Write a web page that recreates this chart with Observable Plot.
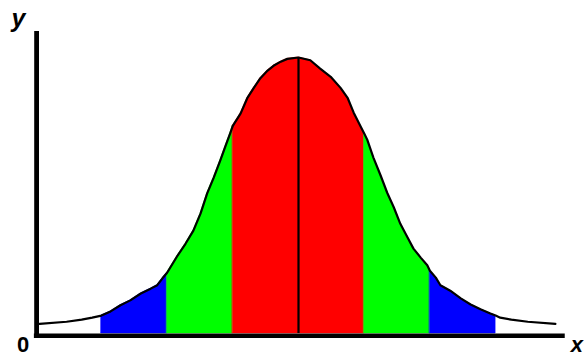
<!DOCTYPE html>
<html>
<head>
<meta charset="utf-8">
<script src="https://cdn.jsdelivr.net/npm/d3@7"></script>
<script src="https://cdn.jsdelivr.net/npm/@observablehq/plot@0.6"></script>
<style>
  html, body { margin: 0; padding: 0; background: #fff; }
  #chart { width: 584px; height: 356px; overflow: hidden; }
</style>
</head>
<body>
<div id="chart"></div>
<script>
// Curve samples (x in standard deviations, y density)
const curveX = [-3.94, -3.53, -3.30, -3.14, -3.00, -2.86, -2.71, -2.56, -2.40, -2.25, -2.15, -2.07, -2.00,
  -1.84, -1.72, -1.60, -1.49, -1.39, -1.29, -1.19, -1.11, -1.04, -1.00,
  -0.88, -0.78, -0.68, -0.58, -0.47, -0.38, -0.27, -0.17, 0.00,
  0.18, 0.33, 0.49, 0.64, 0.75, 0.84, 0.94, 1.00,
  1.05, 1.14, 1.25, 1.35, 1.45, 1.55, 1.66, 1.75, 1.86, 1.96, 2.00,
  2.09, 2.16, 2.31, 2.47, 2.62, 2.77, 2.92, 3.00,
  3.07, 3.24, 3.49, 3.91];
const curveY = [0.014, 0.017, 0.020, 0.023, 0.026, 0.032, 0.041, 0.048, 0.058, 0.065, 0.070, 0.080, 0.088,
  0.113, 0.130, 0.149, 0.174, 0.203, 0.226, 0.251, 0.272, 0.290, 0.301,
  0.319, 0.341, 0.356, 0.370, 0.381, 0.388, 0.394, 0.398, 0.400,
  0.396, 0.384, 0.372, 0.356, 0.341, 0.320, 0.301, 0.290,
  0.280, 0.255, 0.229, 0.204, 0.183, 0.159, 0.139, 0.123, 0.110, 0.099, 0.091,
  0.081, 0.070, 0.062, 0.051, 0.042, 0.035, 0.029, 0.026,
  0.023, 0.020, 0.017, 0.014];

// Shaded bands (in standard deviations) and their colours
const bandLo = [-3, -2, -1, 1, 2];
const bandHi = [-2, -1, 1, 2, 3];
const bandColors = ["#0000ff", "#00ff00", "#ff0000", "#00ff00", "#0000ff"];

// Axis labels
const yLabel = "y";
const xLabel = "x";
const originLabel = "0";

const curve = curveX.map((x, i) => ({x, y: curveY[i]}));
const peak = d3.max(curveY);

const bandMarks = bandLo.map((lo, i) =>
  Plot.areaY(curve.filter(d => d.x >= lo && d.x <= bandHi[i]), {
    x: "x", y: "y", fill: bandColors[i], stroke: bandColors[i], strokeWidth: 0.6
  })
);

const fontFam = "'Liberation Sans', Arial, sans-serif";

const chart = Plot.plot({
  width: 584,
  height: 356,
  marginLeft: 35.2,
  marginRight: 23.2,
  marginTop: 29.4,
  marginBottom: 23,
  style: {background: "#fff", overflow: "visible"},
  x: {domain: [-4, 4], axis: null},
  y: {domain: [0, 0.44], axis: null},
  marks: [
    ...bandMarks,
    Plot.lineY(curve, {x: "x", y: "y", stroke: "black", strokeWidth: 2.2}),
    Plot.ruleX([0], {y1: 0, y2: peak, stroke: "black", strokeWidth: 2.2}),
    // axes
    Plot.ruleY([0], {x1: -4.02, x2: 4.06, stroke: "black", strokeWidth: 4.5, dy: 2.3}),
    Plot.ruleX([-4], {y1: -0.006, y2: 0.4376, stroke: "black", strokeWidth: 4.8, dx: 0.9}),
    // labels
    Plot.text([yLabel], {frameAnchor: "top-left", textAnchor: "middle", lineAnchor: "middle", dx: -17.2, dy: -11, fontSize: 25, fontWeight: "bold", fontStyle: "italic", fontFamily: fontFam, fill: "black"}),
    Plot.text([originLabel], {frameAnchor: "bottom-left", textAnchor: "middle", lineAnchor: "middle", dx: -12.7, dy: 11.5, fontSize: 22, fontWeight: "bold", fontFamily: fontFam, fill: "black"}),
    Plot.text([xLabel], {frameAnchor: "bottom-right", textAnchor: "middle", lineAnchor: "middle", dx: 15.5, dy: 11.5, fontSize: 22, fontWeight: "bold", fontStyle: "italic", fontFamily: fontFam, fill: "black"})
  ]
});
document.getElementById("chart").appendChild(chart);
</script>
</body>
</html>
